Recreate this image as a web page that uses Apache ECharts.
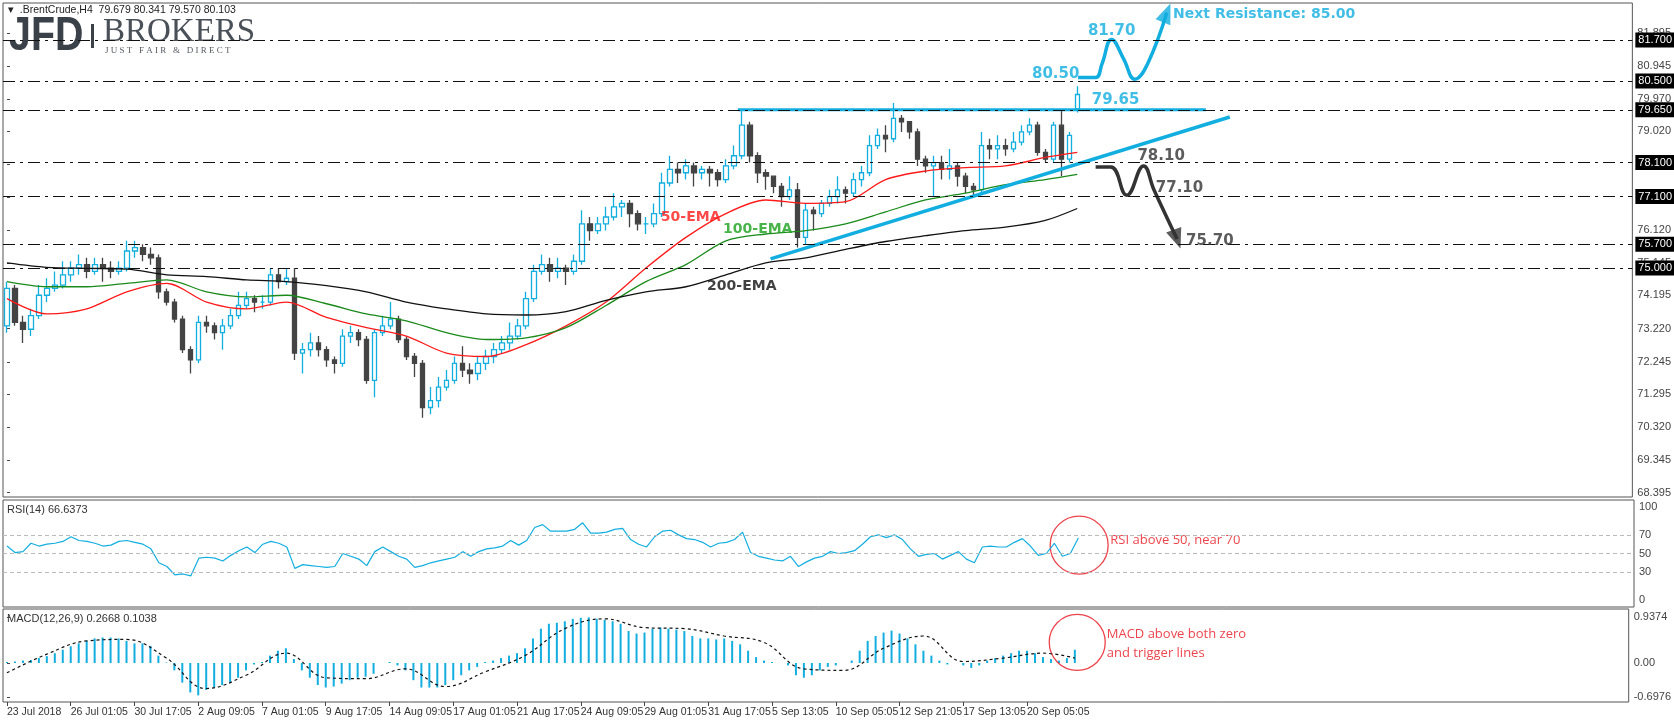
<!DOCTYPE html>
<html>
<head>
<meta charset="utf-8">
<script src="https://cdn.jsdelivr.net/npm/echarts@6/dist/echarts.min.js"></script>
<style>
  html, body { margin: 0; padding: 0; background: #fff; }
  #chart { width: 1674px; height: 723px; }
</style>
</head>
<body>
<div id="chart"></div>
<script>
// ---- data (one candle = two H4 bars) ----
// [open, close, low, high]
var candles = [
  [73.3,74.4,73.1,74.6],[74.4,73.4,73.3,74.5],[73.4,73.2,72.8,73.6],[73.2,73.6,73.0,73.8],[73.6,74.2,73.5,74.5],
  [74.2,74.4,74.0,74.7],[74.4,74.5,74.3,74.9],[74.5,74.8,74.4,75.2],[74.8,75.0,74.6,75.2],[75.0,75.1,74.8,75.4],
  [75.1,74.9,74.7,75.3],[74.9,75.1,74.8,75.3],[75.1,75.0,74.6,75.3],[75.0,74.9,74.7,75.2],[74.9,75.0,74.8,75.2],
  [75.0,75.5,74.9,75.8],[75.5,75.6,75.3,75.8],[75.6,75.4,75.2,75.7],[75.4,75.3,75.1,75.6],[75.3,74.3,74.1,75.4],
  [74.3,74.0,73.9,74.4],[74.0,73.5,73.4,74.1],[73.5,72.6,72.5,73.6],[72.6,72.3,71.9,72.7],[72.3,73.4,72.2,73.6],
  [73.4,73.3,73.1,73.6],[73.3,73.1,72.9,73.4],[73.1,73.3,72.6,73.5],[73.3,73.6,73.2,73.8],[73.6,73.9,73.5,74.3],
  [73.9,74.1,73.8,74.3],[74.1,74.0,73.7,74.2],[74.0,74.0,73.8,74.2],[74.0,74.8,73.9,75.0],[74.8,74.6,74.4,75.0],
  [74.6,74.7,74.5,75.0],[74.7,72.5,72.3,75.0],[72.5,72.6,71.9,72.8],[72.6,72.8,72.4,73.1],[72.8,72.6,72.4,73.0],
  [72.6,72.3,72.1,72.7],[72.3,72.2,71.9,72.4],[72.2,73.0,72.1,73.2],[73.0,73.1,72.8,73.3],[73.1,72.9,72.7,73.2],
  [72.9,71.7,71.6,73.0],[71.7,73.1,71.2,73.2],[73.1,73.3,73.0,73.6],[73.3,73.5,73.2,74.0],[73.5,72.9,72.8,73.6],
  [72.9,72.4,72.3,73.0],[72.4,72.2,71.8,72.5],[72.2,70.9,70.6,72.3],[70.9,71.1,70.7,71.5],[71.1,71.5,70.9,71.8],
  [71.5,71.7,71.4,72.0],[71.7,72.2,71.6,72.4],[72.2,72.0,71.8,72.7],[72.0,71.9,71.6,72.2],[71.9,72.2,71.7,72.4],
  [72.2,72.4,72.0,72.6],[72.4,72.6,72.2,72.8],[72.6,72.8,72.5,73.0],[72.8,73.0,72.6,73.4],[73.0,73.3,72.9,73.5],
  [73.3,74.1,73.2,74.3],[74.1,74.9,74.0,75.1],[74.9,75.1,74.8,75.4],[75.1,74.9,74.6,75.3],[74.9,75.0,74.7,75.3],
  [75.0,74.9,74.5,75.1],[74.9,75.2,74.8,75.4],[75.2,76.3,75.1,76.7],[76.3,76.1,75.8,76.5],[76.1,76.3,76.0,76.5],
  [76.3,76.5,76.1,76.8],[76.5,76.8,76.4,77.2],[76.8,76.9,76.5,77.0],[76.9,76.6,76.2,77.0],[76.6,76.3,76.1,76.7],
  [76.3,76.3,76.0,76.5],[76.3,76.6,76.2,76.9],[76.6,77.5,76.5,77.8],[77.5,77.9,77.4,78.3],[77.9,77.8,77.5,78.1],
  [77.8,78.0,77.6,78.2],[78.0,77.8,77.4,78.1],[77.8,77.9,77.6,78.0],[77.9,77.8,77.4,78.0],[77.8,77.6,77.4,77.9],
  [77.6,78.0,77.5,78.2],[78.0,78.3,77.9,78.6],[78.3,79.2,78.2,79.65],[79.2,78.3,78.1,79.3],[78.3,77.8,77.5,78.4],
  [77.8,77.7,77.3,77.9],[77.7,77.4,77.2,77.7],[77.4,77.1,76.8,77.5],[77.1,77.3,77.0,77.7],[77.3,75.9,75.6,77.5],
  [75.9,76.7,75.7,76.9],[76.7,76.6,76.1,76.8],[76.6,76.9,76.5,77.0],[76.9,77.1,76.8,77.3],[77.1,77.3,76.9,77.7],
  [77.3,77.2,76.9,77.4],[77.2,77.6,77.1,77.8],[77.6,77.8,77.4,78.0],[77.8,78.6,77.7,78.9],[78.6,78.9,78.5,79.1],
  [78.9,78.8,78.4,79.2],[78.8,79.4,78.7,79.85],[79.4,79.3,79.0,79.5],[79.3,79.0,78.8,79.3],[79.0,78.2,78.0,79.1],
  [78.2,78.0,77.8,78.3],[78.0,78.1,77.1,78.3],[78.1,77.9,77.6,78.3],[77.9,78.0,77.6,78.5],[78.0,77.7,77.4,78.1],
  [77.7,77.4,77.2,77.8],[77.4,77.3,77.1,77.5],[77.3,78.6,77.2,79.0],[78.6,78.5,78.2,78.8],[78.5,78.6,78.2,78.9],
  [78.6,78.5,78.3,78.8],[78.5,78.7,78.4,79.0],[78.7,79.0,78.6,79.2],[79.0,79.2,78.9,79.4],[79.2,78.4,78.3,79.3],
  [78.4,78.2,78.1,78.5],[78.2,79.2,78.1,79.3],[79.2,78.2,77.7,79.65],[78.2,78.9,78.1,79.0],[79.68,80.10,79.57,80.34]
];

// moving averages sampled every 5 candles
var emaIdx = [0,5,10,15,20,25,30,35,40,45,50,55,60,65,70,75,80,85,90,95,100,105,110,115,120,125,130,134];
var ema50 = [74.1,73.65,73.8,74.3,74.55,74.0,73.8,74.0,73.55,73.25,73.0,72.5,72.4,72.75,73.3,74.0,75.0,75.9,76.6,77.0,76.9,76.95,77.6,77.85,77.95,78.0,78.25,78.4];
var ema100 = [74.6,74.45,74.45,74.55,74.65,74.3,74.15,74.2,73.95,73.65,73.45,73.1,72.9,72.95,73.25,73.9,74.6,75.1,75.8,76.0,76.1,76.3,76.65,77.0,77.2,77.45,77.6,77.75];
var ema200 = [75.15,75.02,74.99,74.97,74.8,74.75,74.65,74.6,74.48,74.3,74.0,73.8,73.65,73.62,73.72,74.05,74.3,74.45,74.8,75.15,75.3,75.55,75.78,75.95,76.1,76.2,76.4,76.75];

var rsi = [58,51,52,61,58,60,61,63,68,64,63,61,58,59,63,64,62,60,55,40,36,27,28,26,45,46,45,42,48,53,
  57,51,60,63,61,57,34,38,37,36,35,36,50,47,44,37,52,57,52,47,44,35,37,40,42,44,46,52,47,52,
  55,56,58,64,59,64,78,81,74,74,74,76,83,72,72,73,76,77,65,60,57,68,74,75,70,66,65,62,57,61,
  62,65,73,51,47,45,43,42,47,36,41,45,47,52,50,51,53,60,68,70,67,70,65,55,47,49,50,44,48,52,
  44,40,57,58,57,57,62,66,58,48,50,61,47,50,66.6];

var macdHist = [0.02,0.03,0.05,0.06,0.1,0.14,0.2,0.27,0.34,0.4,0.45,0.5,0.52,0.52,0.5,0.45,0.4,0.4,0.35,0.15,
  0.01,-0.15,-0.4,-0.6,-0.66,-0.55,-0.5,-0.45,-0.4,-0.3,-0.15,-0.03,0.02,0.15,0.25,0.3,0.08,-0.15,-0.3,-0.45,
  -0.5,-0.48,-0.42,-0.35,-0.3,-0.28,-0.22,0.0,0.02,-0.05,-0.15,-0.35,-0.5,-0.5,-0.5,-0.45,-0.35,-0.25,-0.15,-0.08,
  0.02,0.05,0.1,0.15,0.2,0.3,0.5,0.7,0.8,0.82,0.85,0.9,0.92,0.93,0.9,0.88,0.85,0.8,0.65,0.6,
  0.62,0.7,0.72,0.7,0.68,0.65,0.55,0.5,0.5,0.48,0.5,0.45,0.38,0.25,0.12,0.05,0.02,0.0,-0.05,-0.25,
  -0.3,-0.25,-0.15,-0.08,-0.05,0.0,0.05,0.25,0.45,0.55,0.62,0.66,0.6,0.5,0.38,0.25,0.15,0.05,-0.03,0.0,
  -0.05,-0.1,-0.05,0.05,0.1,0.15,0.2,0.25,0.25,0.2,0.12,0.08,0.05,0.1,0.27];
var macdSignal = [-0.2,0.18,0.45,0.48,0.1,-0.52,-0.25,0.2,-0.3,-0.32,-0.12,-0.48,-0.18,0.15,0.7,0.9,0.72,0.7,0.55,0.42,-0.12,-0.15,0.3,0.55,0.03,0.1,0.2,0.1];

var priceTicks = [81.895,80.945,79.970,79.020,78.045,77.070,76.120,75.145,74.195,73.220,72.245,71.295,70.320,69.345,68.395];
var levels = [81.7,80.5,79.65,78.1,77.1,75.7,75.0];
var lastPrice = 80.103;
var dateTicks = [0,8,16,24,32,40,48,56,64,72,80,88,96,104,112,120,128];
var dateLabels = ['23 Jul 2018','26 Jul 01:05','30 Jul 17:05','2 Aug 09:05','7 Aug 01:05','9 Aug 17:05','14 Aug 09:05',
  '17 Aug 01:05','21 Aug 17:05','24 Aug 09:05','29 Aug 01:05','31 Aug 17:05','5 Sep 13:05','10 Sep 05:05',
  '12 Sep 21:05','17 Sep 13:05','20 Sep 05:05'];

// scenario drawings (candle index, price)
var bullPath = [[134.1,80.6],[136.3,80.6],[137.1,81.0],[138.3,81.72],[139.8,81.15],[141.2,80.55],[142.8,81.0],[145.2,82.5]];
var bearPath = [[136.3,77.97],[138.2,77.97],[140.2,77.14],[142.3,78.0],[143.6,77.3],[146.5,75.85]];
var resistanceLine = [[91.5,79.65],[150.1,79.65]];
var trendLine = [[95.6,75.27],[153.1,79.44]];

var SLOTS = 204;
var CYAN = '#12aee0';
var catData = [];
for (var i = 0; i < SLOTS; i++) catData.push(i);

function sparse(idx, vals) {
  var out = [];
  for (var i = 0; i < candles.length; i++) out.push(null);
  idx.forEach(function (k, n) { out[k] = vals[n]; });
  return out;
}

var chart = echarts.init(document.getElementById('chart'));
var axisFont = { color: '#444', fontSize: 11, fontFamily: 'Liberation Sans' };

var levelLines = levels.map(function (v) {
  return { yAxis: v, label: { formatter: v.toFixed(3) } };
});
levelLines.push({ yAxis: lastPrice, lineStyle: { opacity: 0 },
  label: { formatter: lastPrice.toFixed(3), backgroundColor: '#555' } });

var catAxis = function (gi) {
  return { type: 'category', gridIndex: gi, data: catData, boundaryGap: true, position: 'top',
    axisLine: { show: false }, axisTick: { show: false }, axisLabel: { show: false }, splitLine: { show: false } };
};
var valAxis = function (gi) {
  return { type: 'value', gridIndex: gi, min: -0.5, max: SLOTS - 0.5, show: false };
};
var dateAxis = {
  type: 'value', gridIndex: 2, position: 'bottom', min: -0.5, max: SLOTS - 0.5,
  axisLine: { show: false }, splitLine: { show: false },
  axisTick: { show: true, length: 4, customValues: dateTicks, lineStyle: { color: '#444' } },
  axisLabel: { customValues: dateTicks, align: 'left', margin: 5, color: '#333', fontSize: 10.5,
    fontFamily: 'Liberation Sans', hideOverlap: false, showMaxLabel: true, showMinLabel: true,
    formatter: function (v) { return dateLabels[dateTicks.indexOf(v)]; } }
};
var txt = function (x, y, text, color, extra) {
  return { type: 'scatter', xAxisIndex: 3, yAxisIndex: 0, symbolSize: 0, silent: true, z: 10,
    data: [[x, y]],
    label: Object.assign({ show: true, formatter: text, color: color, fontSize: 15, fontWeight: 'bold',
      fontFamily: 'DejaVu Sans', position: 'inside' }, extra || {}) };
};

var option = {
  animation: false,
  backgroundColor: '#fff',
  grid: [
    { left: 3, right: 40, top: 3, height: 494, show: true, borderColor: '#555', borderWidth: 1 },
    { left: 3, right: 40, top: 500, height: 107, show: true, borderColor: '#555', borderWidth: 1 },
    { left: 3, right: 40, top: 609, height: 93, show: true, borderColor: '#555', borderWidth: 1 }
  ],
  xAxis: [catAxis(0), catAxis(1), catAxis(2), valAxis(0), valAxis(1), dateAxis],
  yAxis: [
    { type: 'value', gridIndex: 0, position: 'right', min: 68.27, max: 82.79, scale: true,
      axisLine: { show: false }, splitLine: { show: false },
      axisTick: { show: true, length: 3, customValues: priceTicks, lineStyle: { color: '#444' } },
      axisLabel: Object.assign({ customValues: priceTicks, margin: 5,
        formatter: function (v) { return v.toFixed(3); } }, axisFont) },
    { type: 'value', gridIndex: 1, position: 'right', min: -7.5, max: 107.5,
      axisLine: { show: false }, splitLine: { show: false },
      axisTick: { show: false },
      axisLabel: Object.assign({ customValues: [100, 70, 50, 30, 0], margin: 5 }, axisFont) },
    { type: 'value', gridIndex: 2, position: 'right', min: -0.795, max: 1.10,
      axisLine: { show: false }, splitLine: { show: false },
      axisTick: { show: true, length: 3, customValues: [0.9374, 0, -0.6976], lineStyle: { color: '#444' } },
      axisLabel: Object.assign({ customValues: [0.9374, 0, -0.6976], margin: 5,
        formatter: function (v) { return v === 0 ? '0.00' : v.toFixed(4); } }, axisFont) }
  ],
  series: [
    { type: 'candlestick', xAxisIndex: 0, yAxisIndex: 0, data: candles, barWidth: 5,
      itemStyle: { color: '#fff', color0: '#444', borderColor: CYAN, borderColor0: '#444', borderWidth: 1.3 },
      markLine: { silent: true, symbol: 'none', animation: false,
        lineStyle: { color: '#111', type: [12, 5, 3, 5], width: 1.2 },
        label: { position: 'end', distance: 3, color: '#fff', backgroundColor: '#000',
          fontSize: 11, fontFamily: 'Liberation Sans', padding: [2, 3] },
        data: levelLines } },
    { type: 'line', xAxisIndex: 0, yAxisIndex: 0, data: sparse(emaIdx, ema50), connectNulls: true,
      smooth: 0.3, symbol: 'none', lineStyle: { color: '#ff1a1a', width: 1.3 } },
    { type: 'line', xAxisIndex: 0, yAxisIndex: 0, data: sparse(emaIdx, ema100), connectNulls: true,
      smooth: 0.3, symbol: 'none', lineStyle: { color: '#1a8a1a', width: 1.3 } },
    { type: 'line', xAxisIndex: 0, yAxisIndex: 0, data: sparse(emaIdx, ema200), connectNulls: true,
      smooth: 0.3, symbol: 'none', lineStyle: { color: '#111', width: 1.3 } },
    { type: 'line', xAxisIndex: 3, yAxisIndex: 0, data: resistanceLine, symbol: 'none',
      lineStyle: { color: CYAN, width: 3 } },
    { type: 'line', xAxisIndex: 3, yAxisIndex: 0, data: trendLine, symbol: 'none',
      lineStyle: { color: CYAN, width: 3.5 } },
    { type: 'line', xAxisIndex: 3, yAxisIndex: 0, data: bullPath, symbol: 'none', smooth: 0.45,
      lineStyle: { color: CYAN, width: 3.5 } },
    { type: 'scatter', xAxisIndex: 3, yAxisIndex: 0, data: [bullPath[bullPath.length - 1]],
      symbol: 'triangle', symbolSize: [16, 20], symbolRotate: -22, itemStyle: { color: CYAN } },
    { type: 'line', xAxisIndex: 3, yAxisIndex: 0, data: bearPath, symbol: 'none', smooth: 0.45,
      lineStyle: { color: '#333', width: 3.5 } },
    { type: 'scatter', xAxisIndex: 3, yAxisIndex: 0, data: [bearPath[bearPath.length - 1]],
      symbol: 'triangle', symbolSize: [16, 20], symbolRotate: 200, itemStyle: { color: '#333' } },
    txt(138.3, 81.95, '81.70', CYAN),
    txt(131.3, 80.7, '80.50', CYAN),
    txt(138.8, 79.93, '79.65', CYAN),
    txt(146.0, 82.45, 'Next Resistance: 85.00', CYAN, { align: 'left', position: 'right', distance: 0, fontSize: 14 }),
    txt(144.5, 78.3, '78.10', '#333'),
    txt(146.8, 77.35, '77.10', '#333'),
    txt(150.6, 75.8, '75.70', '#333'),
    txt(85.6, 76.48, '50-EMA', '#ff1a1a', { fontSize: 14 }),
    txt(94.0, 76.15, '100-EMA', '#1aa01a', { fontSize: 14 }),
    txt(92.0, 74.45, '200-EMA', '#111', { fontSize: 14 }),
    // RSI pane
    { type: 'line', xAxisIndex: 1, yAxisIndex: 1, data: rsi, symbol: 'none',
      lineStyle: { color: CYAN, width: 1.2 },
      markLine: { silent: true, symbol: 'none', label: { show: false },
        lineStyle: { color: '#bbb', type: [4, 3], width: 1 },
        data: [{ yAxis: 70 }, { yAxis: 50 }, { yAxis: 30 }] } },
    { type: 'scatter', xAxisIndex: 4, yAxisIndex: 1, data: [[134.1, 59]], symbol: 'circle', symbolSize: 58,
      itemStyle: { color: 'rgba(0,0,0,0)', borderColor: '#e8141e', borderWidth: 1.3 } },
    { type: 'scatter', xAxisIndex: 4, yAxisIndex: 1, data: [[138.0, 64]], symbolSize: 0,
      label: { show: true, position: 'right', distance: 0, formatter: 'RSI above 50, near 70',
        color: '#e8141e', fontSize: 13, fontFamily: 'Open Sans' } },
    // MACD pane
    { type: 'bar', xAxisIndex: 2, yAxisIndex: 2, data: macdHist, barWidth: 2,
      itemStyle: { color: CYAN } },
    { type: 'line', xAxisIndex: 2, yAxisIndex: 2, data: sparse(emaIdx, macdSignal), connectNulls: true,
      smooth: 0.4, symbol: 'none', lineStyle: { color: '#111', width: 1.2, type: [3, 3] } },
    { type: 'scatter', xAxisIndex: 5, yAxisIndex: 2, data: [[134.3, 0.42]], symbol: 'circle', symbolSize: 56,
      itemStyle: { color: 'rgba(0,0,0,0)', borderColor: '#e8141e', borderWidth: 1.3 } },
    { type: 'scatter', xAxisIndex: 5, yAxisIndex: 2, data: [[138.0, 0.4]], symbolSize: 0,
      label: { show: true, position: 'right', distance: 0, formatter: 'MACD above both zero\nand trigger lines',
        color: '#e8141e', fontSize: 13, lineHeight: 19, fontFamily: 'Open Sans' } }
  ],
  graphic: [
    { type: 'text', left: 8, top: 5, style: { text: '\u25BE  .BrentCrude,H4  79.679 80.341 79.570 80.103',
      fill: '#222', font: '10.5px "Liberation Sans"' } },
    { type: 'text', x: 9, y: 13, scaleX: 0.82, style: { text: 'JFD', fill: '#3b4149',
      font: 'bold 48px "Liberation Sans"' } },
    { type: 'rect', shape: { x: 91, y: 24, width: 3, height: 24 }, style: { fill: '#3b4149' } },
    { type: 'text', x: 103, y: 16, style: { text: 'BROKERS', fill: '#4a5058',
      font: '33px "Liberation Serif"' } },
    { type: 'text', x: 105, y: 46, style: { text: 'J U S T   F A I R   &   D I R E C T', fill: '#555b63',
      font: '9px "Liberation Serif"' } },
    { type: 'text', left: 7, top: 504, style: { text: 'RSI(14) 66.6373', fill: '#333', font: '11px "Liberation Sans"' } },
    { type: 'text', left: 7, top: 613, style: { text: 'MACD(12,26,9) 0.2668 0.1038', fill: '#333', font: '11px "Liberation Sans"' } }
  ]
};
chart.setOption(option);
</script>
</body>
</html>
